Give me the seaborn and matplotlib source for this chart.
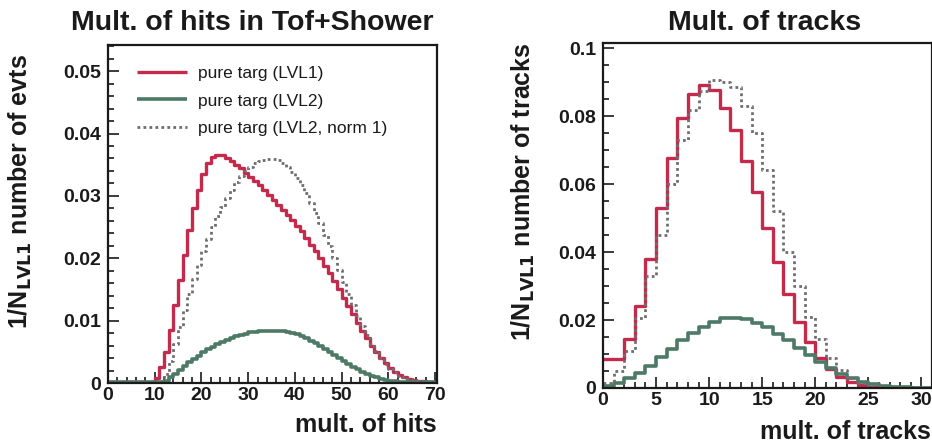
import numpy as np
import pandas as pd
import matplotlib
matplotlib.use("Agg")
import matplotlib.pyplot as plt
from matplotlib.ticker import MultipleLocator, FuncFormatter
import seaborn as sns

# ---- hit multiplicity in Tof+Shower (bins of width 1, 0..70) ----
hits_edges = list(range(0, 71))
hits_lvl1 = [
    0.0002, 0.0002, 0.0002, 0.0002, 0.0002, 0.0002, 0.0002, 0.0002, 0.0002, 0.0002,
    0.0008, 0.0025, 0.0050, 0.0085, 0.0125, 0.0165, 0.0205, 0.0245, 0.0280, 0.0310,
    0.0335, 0.0352, 0.0362, 0.0366, 0.0365, 0.0361, 0.0356, 0.0350, 0.0344, 0.0337,
    0.0331, 0.0324, 0.0317, 0.0310, 0.0302, 0.0294, 0.0286, 0.0278, 0.0270, 0.0261,
    0.0252, 0.0243, 0.0233, 0.0222, 0.0211, 0.0200, 0.0188, 0.0176, 0.0163, 0.0150,
    0.0137, 0.0123, 0.0110, 0.0097, 0.0084, 0.0072, 0.0060, 0.0050, 0.0040, 0.0032,
    0.0024, 0.0018, 0.0013, 0.0009, 0.0007, 0.0005, 0.0004, 0.0003, 0.0002, 0.0002,
]
hits_lvl2 = [
    0.0001, 0.0001, 0.0001, 0.0001, 0.0001, 0.0001, 0.0001, 0.0001, 0.0001, 0.0001,
    0.0001, 0.0001, 0.0004, 0.0009, 0.0015, 0.0021, 0.0027, 0.0033, 0.0039, 0.0044,
    0.0049, 0.0054, 0.0058, 0.0062, 0.0066, 0.0069, 0.0072, 0.0075, 0.0077, 0.0079,
    0.0081, 0.0082, 0.0083, 0.0084, 0.0084, 0.0084, 0.0084, 0.0083, 0.0082, 0.0080,
    0.0078, 0.0075, 0.0072, 0.0068, 0.0064, 0.0060, 0.0055, 0.0050, 0.0045, 0.0040,
    0.0035, 0.0030, 0.0026, 0.0022, 0.0018, 0.0015, 0.0012, 0.0009, 0.0007, 0.0005,
    0.0004, 0.0003, 0.0002, 0.0001, 0.0001, 0.0001, 0.0001, 0.0001, 0.0001, 0.0001,
]
hits_lvl2_norm = [
    0.0002, 0.0002, 0.0002, 0.0002, 0.0002, 0.0002, 0.0002, 0.0002, 0.0002, 0.0002,
    0.0002, 0.0003, 0.0015, 0.0035, 0.0062, 0.0090, 0.0117, 0.0143, 0.0167, 0.0190,
    0.0211, 0.0231, 0.0250, 0.0267, 0.0283, 0.0297, 0.0310, 0.0322, 0.0332, 0.0340,
    0.0347, 0.0352, 0.0356, 0.0358, 0.0359, 0.0359, 0.0357, 0.0353, 0.0347, 0.0339,
    0.0329, 0.0317, 0.0304, 0.0289, 0.0273, 0.0256, 0.0238, 0.0219, 0.0200, 0.0181,
    0.0162, 0.0143, 0.0125, 0.0108, 0.0092, 0.0077, 0.0063, 0.0051, 0.0040, 0.0031,
    0.0023, 0.0017, 0.0012, 0.0009, 0.0006, 0.0004, 0.0003, 0.0002, 0.0002, 0.0002,
]

# ---- track multiplicity (bins of width 1, 0..31) ----
trk_edges = list(range(0, 32))
trk_lvl1 = [
    0.0085, 0.0085, 0.0145, 0.0240, 0.0380, 0.0530, 0.0677, 0.0795, 0.0865, 0.0890,
    0.0878, 0.0825, 0.0758, 0.0668, 0.0578, 0.0470, 0.0372, 0.0278, 0.0195, 0.0135,
    0.0088, 0.0057, 0.0033, 0.0018, 0.0009, 0.0004, 0.0002, 0.0001, 0.0001, 0.0001,
    0.0001,
]
trk_lvl2 = [
    0.0005, 0.0015, 0.0030, 0.0045, 0.0065, 0.0090, 0.0115, 0.0140, 0.0162, 0.0180,
    0.0195, 0.0205, 0.0207, 0.0202, 0.0192, 0.0178, 0.0160, 0.0140, 0.0118, 0.0097,
    0.0077, 0.0058, 0.0042, 0.0028, 0.0018, 0.0011, 0.0006, 0.0003, 0.0002, 0.0001,
    0.0001,
]
trk_lvl2_norm = [
    0.0015, 0.0050, 0.0110, 0.0205, 0.0330, 0.0450, 0.0600, 0.0730, 0.0818, 0.0875,
    0.0905, 0.0900, 0.0885, 0.0830, 0.0750, 0.0640, 0.0520, 0.0400, 0.0300, 0.0210,
    0.0145, 0.0088, 0.0052, 0.0028, 0.0014, 0.0007, 0.0003, 0.0001, 0.0001, 0.0001,
    0.0001,
]

labels = ["pure targ (LVL1)", "pure targ (LVL2)", "pure targ (LVL2, norm 1)"]
RED = "#c42a4c"
GREEN = "#4d7a66"
GREY = "#6e6e6e"
INK = "#1a1a1a"
DOT = (0, (1.0, 1.15))

sns.set_theme(style="white")
plt.rcParams["font.family"] = ["Liberation Sans", "DejaVu Sans"]
plt.rcParams["lines.solid_capstyle"] = "butt"
plt.rcParams["lines.dash_capstyle"] = "butt"

fig = plt.figure(figsize=(9.32, 4.47), dpi=100)
ax1 = fig.add_axes([108 / 932, 64 / 447, 329 / 932, 338 / 447])
ax2 = fig.add_axes([603 / 932, 59 / 447, 329 / 932, 345 / 447])


def draw_hist(ax, edges, values, **kw):
    centers = np.asarray(edges[:-1], dtype=float) + 0.5
    df = pd.DataFrame({"x": centers, "w": values})
    sns.histplot(data=df, x="x", weights="w", bins=edges, element="step",
                 fill=False, ax=ax, **kw)


def style_axes(ax, xmaj, xmin, ymaj, ymin, yfmt):
    for s in ax.spines.values():
        s.set_visible(True)
        s.set_color(INK)
        s.set_linewidth(1.6)
    ax.xaxis.set_major_locator(MultipleLocator(xmaj))
    ax.xaxis.set_minor_locator(MultipleLocator(xmin))
    ax.yaxis.set_major_locator(MultipleLocator(ymaj))
    ax.yaxis.set_minor_locator(MultipleLocator(ymin))
    ax.yaxis.set_major_formatter(FuncFormatter(yfmt))
    ax.xaxis.set_major_formatter(FuncFormatter(lambda v, p: f"{v:.0f}"))
    ax.tick_params(which="both", direction="in", top=False, right=False,
                   bottom=True, left=True, color=INK, width=1.2,
                   labelcolor=INK)
    ax.tick_params(which="major", length=8, labelsize=14)
    ax.tick_params(axis="y", which="major", pad=5)
    ax.tick_params(axis="x", which="major", pad=3)
    ax.tick_params(which="minor", length=4)
    for lab in ax.get_xticklabels() + ax.get_yticklabels():
        lab.set_fontweight("bold")
    ax.set_xlabel("")
    ax.set_ylabel("")


def yfmt_hits(v, p):
    return "0" if abs(v) < 1e-9 else f"{v:.2f}"


def yfmt_trk(v, p):
    if abs(v) < 1e-9:
        return "0"
    if abs(v - 0.1) < 1e-9:
        return "0.1"
    return f"{v:.2f}"


# ---- left panel ----
draw_hist(ax1, hits_edges, hits_lvl1, color=RED, linewidth=2.4, label=labels[0])
draw_hist(ax1, hits_edges, hits_lvl2, color=GREEN, linewidth=2.6, label=labels[1])
draw_hist(ax1, hits_edges, hits_lvl2_norm, color=GREY, linewidth=2.0,
          linestyle=DOT, label=labels[2])
ax1.set_xlim(0, 70.4)
ax1.set_ylim(0, 0.0542)
style_axes(ax1, 10, 2, 0.01, 0.002, yfmt_hits)
leg = ax1.legend(loc="upper left", bbox_to_anchor=(0.04, 0.985), frameon=False,
                 fontsize=12.5, handlelength=2.9, handletextpad=0.6,
                 labelspacing=0.72)
for t in leg.get_texts():
    t.set_color(INK)

fig.text(252 / 932, 1 - 23 / 447, "Mult. of hits in Tof+Shower", ha="center",
         va="center", fontsize=20.5, fontweight="bold", color=INK)
fig.text(437 / 932, 1 - 425 / 447, "mult. of hits", ha="right", va="center",
         fontsize=18, fontweight="bold", color=INK)
fig.text(20 / 932, 1 - 192 / 447, r"1/N$_{\mathbf{LVL1}}$ number of evts",
         ha="center", va="center", rotation=90, fontsize=18,
         fontweight="bold", color=INK)

# ---- right panel ----
draw_hist(ax2, trk_edges, trk_lvl1, color=RED, linewidth=2.4)
draw_hist(ax2, trk_edges, trk_lvl2, color=GREEN, linewidth=2.6)
draw_hist(ax2, trk_edges, trk_lvl2_norm, color=GREY, linewidth=2.0, linestyle=DOT)
ax2.set_xlim(0, 31.0)
ax2.set_ylim(0, 0.1015)
style_axes(ax2, 5, 1, 0.02, 0.005, yfmt_trk)

fig.text(765 / 932, 1 - 23 / 447, "Mult. of tracks", ha="center", va="center",
         fontsize=20.5, fontweight="bold", color=INK)
fig.text(931 / 932, 1 - 432 / 447, "mult. of tracks", ha="right", va="center",
         fontsize=18, fontweight="bold", color=INK)
fig.text(523 / 932, 1 - 192 / 447, r"1/N$_{\mathbf{LVL1}}$ number of tracks",
         ha="center", va="center", rotation=90, fontsize=18,
         fontweight="bold", color=INK)

fig.savefig("out.png", dpi=100)
